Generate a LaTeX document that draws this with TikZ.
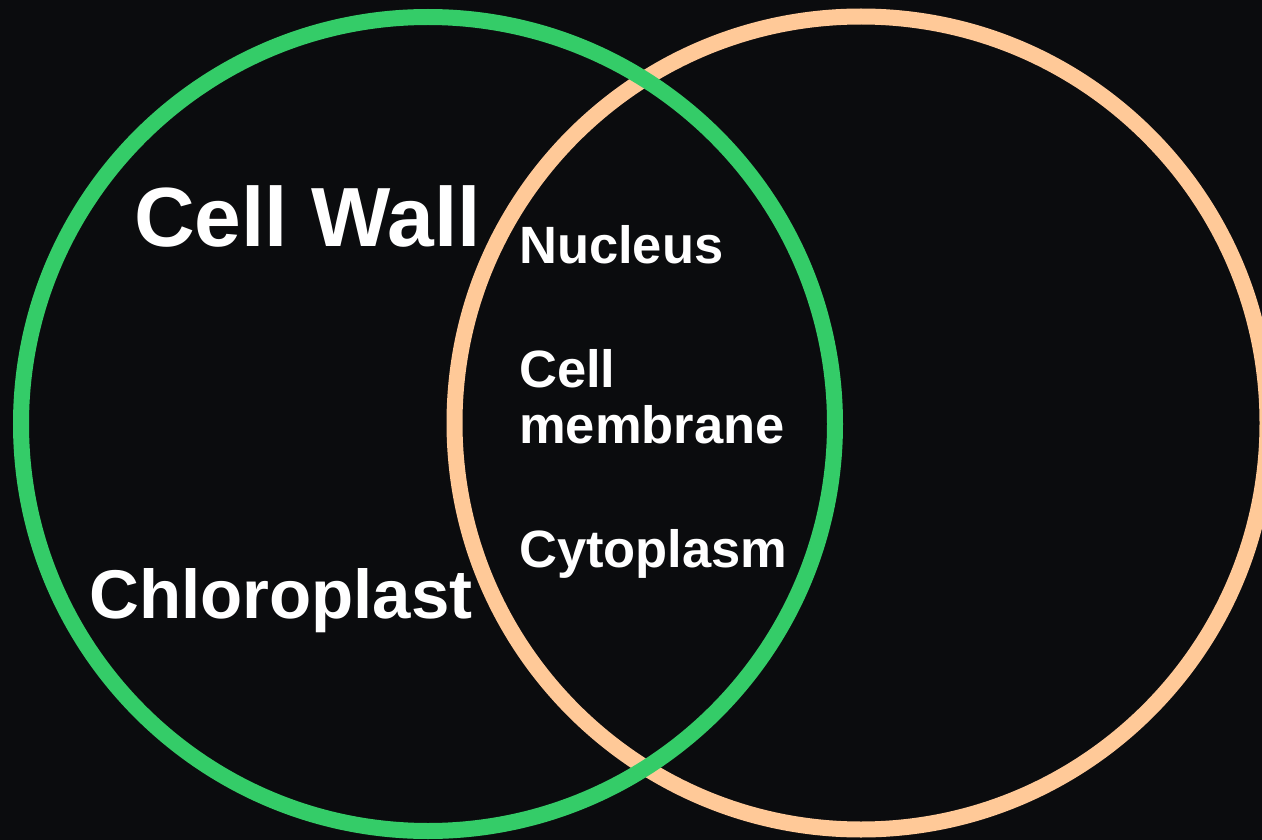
\documentclass[tikz,border=0pt]{standalone}
\usepackage{fontspec}
\setmainfont{Liberation Sans}
\usetikzlibrary{positioning}
\definecolor{BgDark}{RGB}{11,12,14}
\definecolor{WallGreen}{RGB}{52,204,104}
\definecolor{CellPeach}{RGB}{255,201,152}

\begin{document}
\begin{tikzpicture}[x=1pt,y=-1pt,
	vennring/.style={line width=16pt},
	vennlabel/.style={text=white,font=\bfseries,inner sep=0pt,anchor=base west,align=left}]
			\fill[BgDark] (0,0) rectangle (1262,840);
			\useasboundingbox (0,0) rectangle (1262,840);
			% the two sets
			\draw[vennring,CellPeach] (861,423) circle (406.5);
			\draw[vennring,WallGreen] (428,424) circle (407);
			% left set only
			\node[vennlabel,font=\bfseries\fontsize{84}{90}\selectfont] (wall) at (134,247) {Cell Wall};
			\node[vennlabel,font=\bfseries\fontsize{69}{75}\selectfont] (chloro) at (89,618) {Chloroplast};
			% shared
			\node[vennlabel,font=\bfseries\fontsize{52.5}{56}\selectfont] (nucleus) at (519,263) {Nucleus};
			\node[vennlabel,font=\bfseries\fontsize{52.5}{56}\selectfont] (membrane) at (519,443) {Cell\\membrane};
			\node[vennlabel,font=\bfseries\fontsize{52.5}{56}\selectfont] (cyto) at (519,567) {Cytoplasm};
		\end{tikzpicture}
\end{document}
